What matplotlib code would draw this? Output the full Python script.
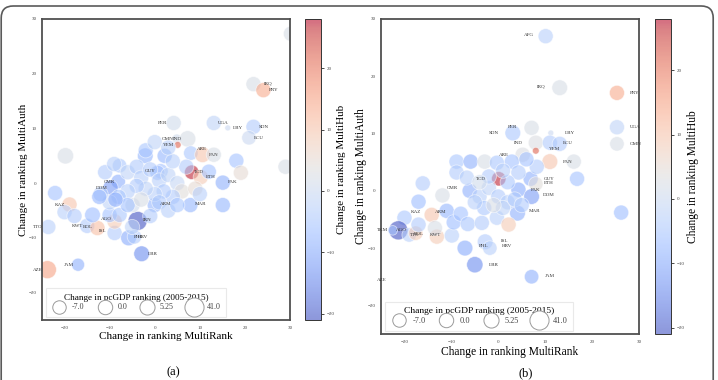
import numpy as np
import matplotlib
matplotlib.use('Agg')
import matplotlib.pyplot as plt
from matplotlib.lines import Line2D
from matplotlib.patches import FancyBboxPatch
from matplotlib.colors import Normalize

plt.rcParams['font.family'] = ['Liberation Serif', 'DejaVu Serif']

# ---- panel (a) data: code, MultiRank change, MultiAuth change, MultiHub change, pcGDP change
a_code = ['IRQ', 'PRY', 'PER', 'UGA', 'LBY', 'SDN', 'ECU', 'OMN', 'IND', 'YEM',
          'ARE', 'PAN', 'TCD', 'ETH', 'PAK', 'GUY', 'CMR', 'DOM', 'KAZ', 'TTO',
          'KWT', 'BOL', 'ISL', 'AGO', 'IRN', 'PHL', 'HRV', 'LBR', 'JAM', 'AZE',
          'ARM', 'MAR',
          '', '', '', '', '', '', '', '', '', '',
          '', '', '', '', '', '', '', '', '',
          '', '', '', '', '', '', '', '', '', '',
          '', '', '', '', '', '', '', '', '', '',
          '', '', '', '', '', '', '', '', '', '',
          '', '', '', '', '']
a_rank = [21.9, 24.1, 4.2, 13.1, 16.2, 21.9, 20.9, 4.9, 7.3, 5.1,
          8.0, 10.6, 8.2, 10.2, 15.1, 1.3, -8.1, -9.8, -18.9, -23.6,
          -15.0, -12.7, -8.9, -8.9, -3.8, -5.8, -4.5, -2.9, -17.0, -23.8,
          0.0, 7.9,
          30.2, 13.1, -19.8, -2.1, 2.2, -7.8, 18.1, 19.1, 29.0, 12.0,
          15.1, -22.1, -20.0, -17.8, -13.8, -10.0, -7.8, -4.9, 0.6,
          -11.0, -9.0, -6.0, -4.0, -3.0, -1.0, 1.0, 3.0, 5.0, 6.0,
          4.0, 2.0, 0.0, -2.0, -4.0, -6.0, -8.0, -10.0, -12.0, -6.0,
          -3.0, 1.0, 3.0, 5.0, -1.0, -5.0, 9.0, 10.0, 7.0, 4.0,
          -2.0, 0.0, 3.0, -12.3, -8.7]
a_auth = [18.1, 17.0, 11.0, 11.0, 10.1, 10.3, 8.3, 8.1, 8.1, 7.0,
          5.5, 5.2, 2.0, 1.1, 0.1, 2.2, 0.3, -0.8, -3.9, -8.0,
          -7.8, -8.2, -9.1, -7.0, -6.9, -10.0, -9.8, -12.9, -14.9, -15.8,
          -4.0, -4.0,
          27.3, 5.2, 5.0, 5.0, 5.0, 3.2, 4.1, 1.9, 3.0, 2.1,
          -4.0, -1.8, -5.3, -6.0, -5.8, -5.8, -5.8, -4.0, 1.9,
          2.0, 3.5, 2.0, 3.0, 1.0, 2.5, 0.5, 1.5, 0.0, -1.5,
          -2.5, -1.5, -2.0, -1.0, -0.5, -1.5, -2.5, -3.5, -2.0, -4.0,
          -3.0, -3.5, -5.0, -4.0, -6.0, -8.0, -1.0, -2.0, 3.0, 4.0,
          6.0, 7.5, 6.5, -2.5, -3.0]
a_hub = [2, 14, 1, -2, 0, -4, 0, 1, 2, 22,
         -5, 10, 27, 9, -9, -6, -9, -12, 10, -3,
         -4, 11, -4, 9, -21, -10, -4, -14, -9, 15,
         -8, -8,
         2, 2, 2, -8, -8, -5, -6, 5, 2, -6,
         -8, -6, -3, -4, -7, -6, -5, 1, -6,
         -4, -3, -2, -4, -3, -4, -3, -2, -1, 4,
         -4, -4, -3, -2, -4, -3, -5, -2, -4, -6,
         2, -4, -3, -5, -4, -2, 5, -3, -4, -3,
         -5, -2, -3, -8, -9]
a_gdp = [5, 5, 5, 5, -45, 5, 0, -30, 15, -42,
         0, 10, 0, 5, 5, 5, 0, 5, 5, 5,
         5, 5, 5, 5, 40, 10, 0, 10, -10, 30,
         5, 5,
         5, 5, 15, 10, 5, 0, 5, 5, 5, 5,
         5, 5, 5, 5, 10, 5, 5, 5, 5,
         5, 5, 5, 5, 5, 5, 5, 5, 5, 5,
         5, 5, 5, 5, 5, 5, 5, 5, 5, 5,
         5, 5, 5, 5, 5, 5, 5, 5, 5, 5,
         5, 5, 5, 5, 5]

# ---- panel (b) data
b_code = ['AFG', 'IRQ', 'PRY', 'UGA', 'OMN', 'PER', 'SDN', 'LBY', 'IND', 'ECU',
          'YEM', 'ARE', 'PAN', 'TCD', 'GUY', 'ETH', 'PAK', 'DOM', 'CMR', 'KAZ',
          'ARM', 'AGO', 'TKM', 'TTO', 'BOL', 'KWT', 'MAR', 'PHL', 'ISL', 'HRV',
          'LBR', 'JAM', 'AZE',
          '', '', '', '', '', '', '', '', '', '',
          '', '', '', '', '', '', '', '', '', '',
          '', '', '', '', '',
          '', '', '', '', '', '', '', '', '', '',
          '', '', '', '', '', '']
b_rank = [10.1, 13.1, 25.3, 25.3, 25.3, 7.1, 3.1, 11.2, 8.0, 11.0,
          8.0, 5.2, 11.0, 0.1, 6.9, 8.0, 4.3, 7.1, -6.1, -20.0,
          -14.2, -21.3, -22.5, -19.0, -17.6, -13.1, 4.1, -7.1, -2.8, -1.8,
          -5.0, 7.1, -28.0,
          16.1, -8.9, -5.9, -2.9, -0.3, 2.9, -8.9, -6.7, -11.9, -17.0,
          -16.1, 4.3, 8.2, 16.8, 26.2, -17.0, -9.9, -11.0, -9.5, -8.0,
          -6.5, -3.5, -0.3, 2.2, 13.1,
          -4.0, -2.0, 0.0, 2.0, -3.0, 1.0, 3.5, -1.0, 5.0, -5.0,
          2.0, -2.0, 1.0, -4.0, 6.0, -13.5]
b_auth = [27.0, 18.0, 17.1, 11.1, 8.2, 11.0, 10.1, 10.1, 8.4, 8.4,
          7.0, 6.3, 5.1, 2.1, 2.1, 1.2, 0.2, -1.0, 0.0, -4.7,
          -4.2, -6.9, -6.9, -7.7, -7.4, -8.0, -3.9, -10.0, -8.9, -10.0,
          -12.9, -15.0, -15.6,
          5.1, 5.1, 5.1, 5.1, 4.9, 5.1, 3.2, 2.3, -0.8, -1.9,
          1.3, 3.2, 4.2, 2.1, -3.8, -5.9, -7.8, -3.5, -5.5, -4.0,
          -5.8, -5.6, -4.7, -5.9, 8.2,
          -1.0, 0.5, -1.0, -2.0, -3.0, -3.0, -1.5, -2.5, -2.5, -2.0,
          1.5, 2.5, 3.5, 1.5, 5.5, -6.5]
b_hub = [-3, 2, 14, -2, 2, 2, -5, 0, 3, -4,
         22, 3, 10, 27, -9, 4, -10, -12, -9, -5,
         10, -21, -5, -3, 9, 9, -9, -10, -4, -3,
         -14, -9, 15,
         2, -5, -9, 2, -5, -6, -4, -3, 2, -7,
         -4, -4, -4, -6, -7, -4, -3, -8, -7, -6,
         -5, -4, -3, 9, -4,
         -3, -2, -4, -3, -5, -2, -4, 2, -4, -3,
         -5, -4, -3, 1, -6, 2]
b_gdp = [5, 10, 5, 5, 0, 5, 10, -45, 5, 5,
         -42, 5, 10, 0, 5, 0, 5, 10, 5, 5,
         5, 40, -30, 0, 0, 5, 10, 10, 10, 0,
         15, 0, 30,
         5, 5, 5, 5, 5, 5, 5, 5, 5, 5,
         5, 5, 5, 5, 5, 5, 5, 5, 5, 5,
         5, 5, 5, 5, 5,
         5, 5, 5, 5, 5, 5, 5, 5, 5, 5,
         5, 5, 5, 5, 5, 5]

legend_vals = [-7.0, 0.0, 5.25, 41.0]
legend_text = ['-7.0', '0.0', '5.25', '41.0']

# label placement (pixels from bubble centre, side of text)
a_offsets = {'IRQ': (10, 1, 'l'), 'PRY': (5, 0, 'l'), 'PER': (-6, 0, 'r'), 'UGA': (4, 0, 'l'),
             'LBY': (5, 0, 'l'), 'SDN': (5, 0, 'l'), 'ECU': (5, 0, 'l'), 'OMN': (-3, 0, 'r'),
             'IND': (-6, 0, 'r'), 'YEM': (-4, 0, 'r'), 'ARE': (6, 4, 'l'), 'PAN': (6, 0, 'l'),
             'TCD': (2, 0, 'l'), 'ETH': (5, 0, 'l'), 'PAK': (5, 1, 'l'), 'GUY': (-5, 0, 'r'),
             'CMR': (-3, 0, 'r'), 'DOM': (-3, 0, 'r'), 'KAZ': (-4, 0, 'r'), 'TTO': (-6, 0, 'r'),
             'KWT': (-4, 0, 'r'), 'BOL': (-5, 1, 'r'), 'ISL': (-8, 2, 'r'), 'AGO': (-3, 2, 'r'),
             'IRN': (5, 1, 'l'), 'PHL': (5, 1, 'l'), 'HRV': (3, 0, 'l'), 'LBR': (6, 0, 'l'),
             'JAM': (-4, 0, 'r'), 'AZE': (-5, 0, 'r'), 'ARM': (5, 1, 'l'), 'MAR': (4, 1, 'l')}
b_offsets = {'AFG': (-12, 1, 'r'), 'IRQ': (-14, 1, 'r'), 'PRY': (13, 0, 'l'), 'UGA': (13, 0, 'l'),
             'OMN': (13, 0, 'l'), 'PER': (-14, 1, 'r'), 'SDN': (-14, 0, 'r'), 'LBY': (14, 0, 'l'),
             'IND': (-13, 0, 'r'), 'ECU': (13, 0, 'l'), 'YEM': (13, 2, 'l'), 'ARE': (-14, 0, 'r'),
             'PAN': (13, 0, 'l'), 'TCD': (-13, 0, 'r'), 'GUY': (13, 0, 'l'), 'ETH': (8, 1, 'l'),
             'PAK': (12, 0, 'l'), 'DOM': (11, 2, 'l'), 'CMR': (-12, 3, 'r'), 'KAZ': (6, 6, 'l'),
             'ARM': (3, 3, 'l'), 'AGO': (-2, 0, 'l'), 'TKM': (-5, 0, 'r'), 'TTO': (1, 0, 'l'),
             'BOL': (-2, -1, 'l'), 'KWT': (-7, 2, 'l'), 'MAR': (11, 2, 'l'), 'PHL': (14, 2, 'l'),
             'ISL': (16, 1, 'l'), 'HRV': (12, 2, 'l'), 'LBR': (14, 0, 'l'), 'JAM': (13, 1, 'l'),
             'AZE': (10, 0, 'l')}

norm = Normalize(vmin=-21, vmax=28)


def bubble_size(g):
    return np.clip(108 + 2 * np.asarray(g, dtype=float), 6, None)


fig = plt.figure(figsize=(7.18, 3.80), dpi=100)


def draw_panel(rect, cbar_rect, code, rank, auth, hub, gdp, offsets, fs):
    ax = fig.add_axes(rect)
    cax = fig.add_axes(cbar_rect)
    sc = ax.scatter(rank, auth, s=bubble_size(gdp), c=hub, cmap='coolwarm', norm=norm,
                    alpha=0.58, edgecolors='white', linewidths=0.6, zorder=2)
    for c, x, y in zip(code, rank, auth):
        if not c:
            continue
        dx, dy, side = offsets[c]
        ax.annotate(c, (x, y), xytext=(dx * 0.72, dy * 0.72), textcoords='offset points',
                    ha='left' if side == 'l' else 'right', va='center', fontsize=3.6,
                    color='#333333', annotation_clip=False, zorder=3)
    ax.set_xlim(-25, 30)
    ax.set_ylim(-25, 30)
    ax.set_xticks([-20, -10, 0, 10, 20, 30])
    ax.set_yticks([-20, -10, 0, 10, 20, 30])
    ax.tick_params(length=0, labelsize=3.6, labelcolor='#444444', pad=4)
    for sp in ax.spines.values():
        sp.set_color('#505050')
        sp.set_linewidth(1.3)
    ax.set_xlabel('Change in ranking MultiRank', fontsize=fs, labelpad=2)
    ax.set_ylabel('Change in ranking MultiAuth', fontsize=fs, labelpad=0)

    handles = [Line2D([], [], ls='', marker='o', markersize=np.sqrt(bubble_size(v)),
                      markerfacecolor='white', markeredgecolor='#9a9a9a', markeredgewidth=0.7)
               for v in legend_vals]
    leg = ax.legend(handles, legend_text, title='Change in pcGDP ranking (2005-2015)',
                    ncol=4, loc='lower left', bbox_to_anchor=(0.015, 0.01), borderaxespad=0,
                    fontsize=fs * 0.72, title_fontsize=fs * 0.82, frameon=True, fancybox=False,
                    columnspacing=1.5, handletextpad=0.6, borderpad=0.7, labelspacing=0.2)
    leg.get_frame().set_edgecolor('#e4e4e4')
    leg.get_frame().set_linewidth(0.8)
    for t in leg.get_texts():
        t.set_color('#444444')

    cb = fig.colorbar(sc, cax=cax)
    cb.set_ticks([-20, -10, 0, 10, 20])
    cb.ax.tick_params(labelsize=3.6, length=2, width=0.5, pad=2, labelcolor='#444444')
    cb.outline.set_linewidth(0.7)
    cb.outline.set_edgecolor('#333333')
    cb.set_label('Change in ranking MultiHub', fontsize=fs, labelpad=2)
    return ax


draw_panel([42 / 718, 60 / 380, 248 / 718, 301 / 380],
           [305 / 718, 60 / 380, 16 / 718, 301 / 380],
           a_code, a_rank, a_auth, a_hub, a_gdp, a_offsets, 8.0)
draw_panel([381 / 718, 46 / 380, 258 / 718, 315 / 380],
           [655 / 718, 46 / 380, 16 / 718, 315 / 380],
           b_code, b_rank, b_auth, b_hub, b_gdp, b_offsets, 8.3)

fig.text(173 / 718, 1 - 372 / 380, '(a)', ha='center', va='center', fontsize=9)
fig.text(526 / 718, 1 - 373 / 380, '(b)', ha='center', va='center', fontsize=9)

frame = FancyBboxPatch((0.012, -0.5), 7.12, 4.24, boxstyle='round,pad=0,rounding_size=0.12',
                       transform=fig.dpi_scale_trans, fill=False, edgecolor='#5a5a5a',
                       linewidth=1.2, clip_on=False)
fig.patches.append(frame)

fig.savefig('out.png', dpi=100)
